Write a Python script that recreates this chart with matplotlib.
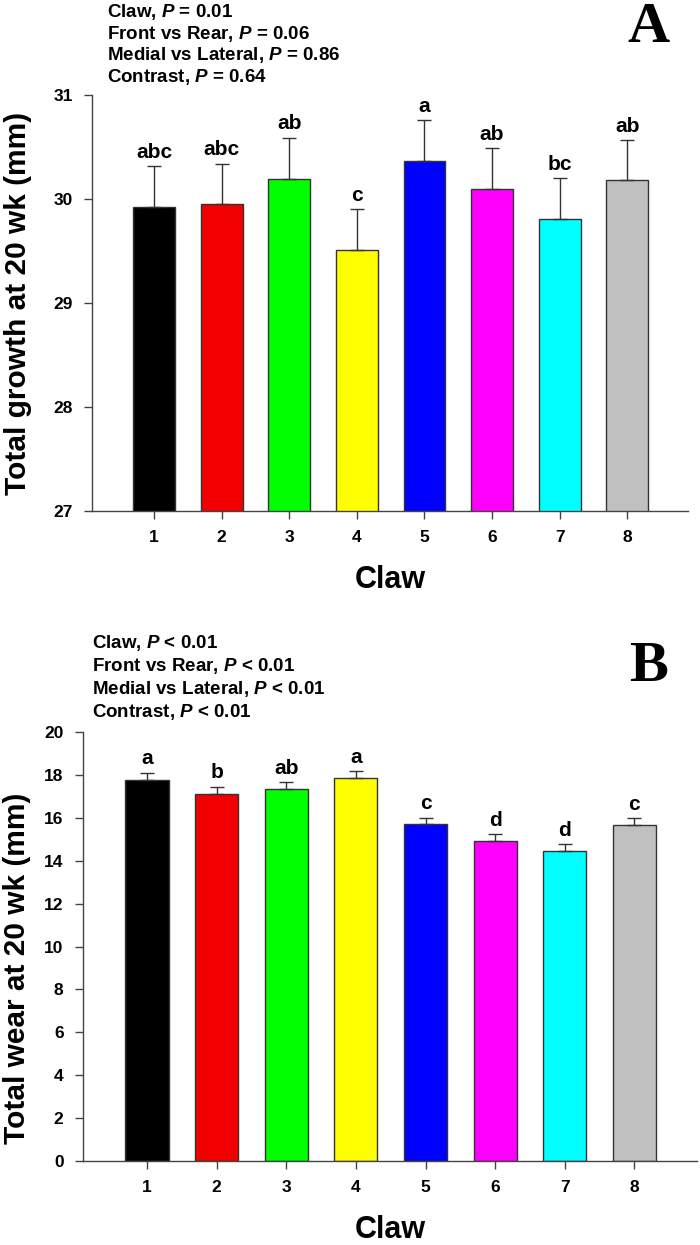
import matplotlib
matplotlib.use("Agg")
import matplotlib.pyplot as plt
import numpy as np

plt.rcParams['font.family'] = ['Liberation Sans', 'DejaVu Sans']
plt.rcParams['font.weight'] = 'bold'
plt.rcParams['mathtext.fontset'] = 'custom'
plt.rcParams['mathtext.rm'] = 'Liberation Sans:bold'
plt.rcParams['mathtext.it'] = 'Liberation Sans:bold:italic'

claws = [1, 2, 3, 4, 5, 6, 7, 8]
colors = ['#000000', '#f20000', '#00ff00', '#ffff00', '#0000ff', '#ff00ff', '#00ffff', '#c0c0c0']

growth = [29.92, 29.95, 30.19, 29.51, 30.37, 30.10, 29.81, 30.18]
growth_se = [0.40, 0.39, 0.40, 0.39, 0.39, 0.39, 0.39, 0.39]
growth_letters = ['abc', 'abc', 'ab', 'c', 'a', 'ab', 'bc', 'ab']
growth_stats = ['Claw, $P$ = 0.01', 'Front vs Rear, $P$ = 0.06',
                'Medial vs Lateral, $P$ = 0.86', 'Contrast, $P$ = 0.64']

wear = [17.77, 17.12, 17.35, 17.87, 15.70, 14.93, 14.47, 15.66]
wear_se = [0.33, 0.33, 0.32, 0.32, 0.31, 0.32, 0.30, 0.33]
wear_letters = ['a', 'b', 'ab', 'a', 'c', 'd', 'd', 'c']
wear_stats = ['Claw, $P$ < 0.01', 'Front vs Rear, $P$ < 0.01',
              'Medial vs Lateral, $P$ < 0.01', 'Contrast, $P$ < 0.01']

W, H = 700, 1245
fig = plt.figure(figsize=(W / 100, H / 100), dpi=100)


def px(x0, y0, x1, y1):
    # pixel box -> figure fraction rect
    return [x0 / W, 1 - y1 / H, (x1 - x0) / W, (y1 - y0) / H]


def panel(rect, vals, se, letters, ylim, yticks, ylabel, pad):
    ax = fig.add_axes(rect)
    ax.bar(claws, vals, width=0.62, color=colors, edgecolor='#333333', linewidth=1.0, zorder=2)
    ax.errorbar(claws, vals, yerr=[np.zeros(len(se)), se], fmt='none', ecolor='#333333',
                elinewidth=1.0, capsize=5, capthick=1.0, zorder=3)
    for x, v, s, t in zip(claws, vals, se, letters):
        ax.text(x, v + s + pad, t, ha='center', va='bottom', fontsize=15, fontweight='bold')
    ax.set_xlim(0.08, 8.9)
    ax.set_ylim(*ylim)
    ax.set_yticks(yticks)
    ax.set_xticks(claws)
    for s in ['top', 'right']:
        ax.spines[s].set_visible(False)
    for s in ['left', 'bottom']:
        ax.spines[s].set_color('#444444')
        ax.spines[s].set_linewidth(1.0)
    ax.tick_params(direction='out', length=6, width=1.0, color='#444444', labelsize=12.5, pad=8)
    ax.set_ylabel(ylabel, fontsize=21.5, fontweight='bold')
    ax.set_xlabel('Claw', fontsize=22, fontweight='bold', labelpad=14)
    return ax

axA = panel(px(92, 95, 688, 511), growth, growth_se, growth_letters, (27, 31), [27, 28, 29, 30, 31],
            'Total growth at 20 wk (mm)', 0.04)
axA.yaxis.set_label_coords(-0.1, 0.5)
axB = panel(px(83, 732, 697, 1161), wear, wear_se, wear_letters, (0, 20), list(range(0, 21, 2)),
            'Total wear at 20 wk (mm)', 0.2)
axB.yaxis.set_label_coords(-0.085, 0.45)

for i, s in enumerate(growth_stats):
    fig.text(107 / W, 1 - (12 + 21.7 * i) / H, s, fontsize=13.5, fontweight='bold', va='center')
for i, s in enumerate(wear_stats):
    fig.text(92 / W, 1 - (643 + 23 * i) / H, s, fontsize=13.5, fontweight='bold', va='center')

fig.text(648 / W, 1 - 28 / H, 'A', fontsize=42, fontweight='bold', family='Liberation Serif',
         ha='center', va='center')
fig.text(648 / W, 1 - 667 / H, 'B', fontsize=42, fontweight='bold', family='Liberation Serif',
         ha='center', va='center')

fig.savefig('out.png', dpi=100)
